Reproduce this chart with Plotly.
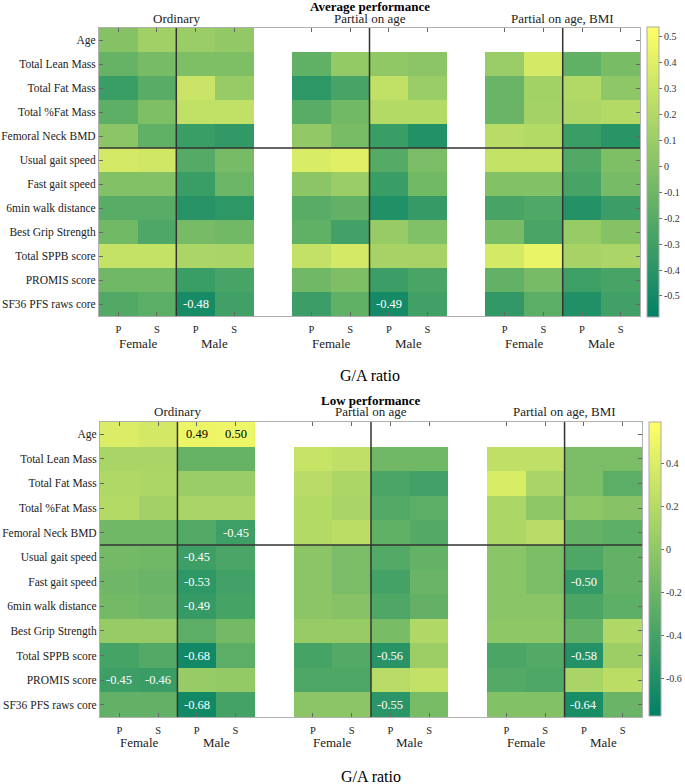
import plotly.graph_objects as go

W, H = 685, 784
ML, MR, MT, MB = 4, 36, 4, 4
FONT = "Liberation Serif"

rows = ["Age", "Total Lean Mass", "Total Fat Mass", "Total %Fat Mass",
        "Femoral Neck BMD", "Usual gait speed", "Fast gait speed",
        "6min walk distance", "Best Grip Strength", "Total SPPB score",
        "PROMIS score", "SF36 PFS raws core"]
col_ticks = ["P", "S", "P", "S"]
sexes = ["Female", "Male"]
groups = ["Ordinary", "Partial on age", "Partial on age, BMI"]
NA = None

# ---------- Average performance ----------
avg_ordinary = [
    [0.00, 0.12, 0.10, 0.06],
    [-0.13, -0.06, -0.03, -0.03],
    [-0.33, -0.19, 0.30, 0.08],
    [-0.17, -0.03, 0.26, 0.26],
    [0.03, -0.16, -0.33, -0.36],
    [0.35, 0.33, -0.21, -0.06],
    [-0.01, -0.01, -0.33, -0.11],
    [-0.19, -0.19, -0.41, -0.38],
    [-0.08, -0.24, -0.06, -0.08],
    [0.28, 0.28, 0.17, 0.16],
    [-0.09, -0.09, -0.33, -0.27],
    [-0.22, -0.18, -0.48, -0.30]]
avg_partial_age = [
    [NA, NA, NA, NA],
    [-0.16, 0.07, 0.05, 0.03],
    [-0.38, -0.27, 0.26, 0.10],
    [-0.19, -0.08, 0.21, 0.21],
    [0.06, -0.05, -0.33, -0.43],
    [0.37, 0.40, -0.21, -0.04],
    [0.03, 0.10, -0.33, -0.08],
    [-0.19, -0.15, -0.44, -0.35],
    [-0.16, -0.29, 0.08, -0.02],
    [0.27, 0.35, 0.15, 0.15],
    [-0.09, -0.03, -0.32, -0.26],
    [-0.32, -0.16, -0.49, -0.30]]
avg_partial_age_bmi = [
    [NA, NA, NA, NA],
    [0.09, 0.35, -0.16, -0.05],
    [-0.12, 0.13, 0.20, 0.04],
    [-0.12, 0.14, 0.18, 0.21],
    [0.23, 0.21, -0.33, -0.40],
    [0.28, 0.28, -0.22, -0.03],
    [-0.01, -0.01, -0.27, -0.06],
    [-0.27, -0.23, -0.42, -0.32],
    [-0.05, -0.26, 0.08, 0.00],
    [0.35, 0.44, 0.15, 0.17],
    [-0.15, -0.06, -0.31, -0.27],
    [-0.36, -0.18, -0.44, -0.30]]

# ---------- Low performance ----------
low_ordinary = [
    [0.40, 0.36, 0.49, 0.50],
    [0.13, 0.13, -0.23, -0.23],
    [0.17, 0.15, 0.05, 0.05],
    [0.19, 0.10, 0.13, 0.13],
    [-0.17, -0.17, -0.33, -0.45],
    [-0.15, -0.17, -0.45, -0.38],
    [-0.18, -0.21, -0.53, -0.42],
    [-0.16, -0.18, -0.49, -0.40],
    [0.03, 0.03, -0.28, -0.15],
    [-0.40, -0.33, -0.68, -0.28],
    [-0.45, -0.46, 0.03, 0.02],
    [-0.25, -0.25, -0.68, -0.41]]
low_partial_age = [
    [NA, NA, NA, NA],
    [0.29, 0.25, -0.17, -0.17],
    [0.21, 0.15, -0.38, -0.42],
    [0.19, 0.13, -0.33, -0.28],
    [0.19, 0.23, -0.26, -0.33],
    [-0.03, -0.12, -0.33, -0.24],
    [-0.03, -0.12, -0.41, -0.21],
    [-0.03, -0.05, -0.35, -0.25],
    [0.03, 0.03, -0.13, 0.17],
    [-0.40, -0.33, -0.56, 0.07],
    [-0.35, -0.35, 0.21, 0.27],
    [-0.03, -0.03, -0.55, -0.13]]
low_partial_age_bmi = [
    [NA, NA, NA, NA],
    [0.25, 0.25, -0.12, -0.12],
    [0.39, 0.13, -0.11, -0.28],
    [0.15, -0.01, -0.01, -0.05],
    [0.15, 0.21, -0.24, -0.27],
    [-0.04, -0.11, -0.35, -0.25],
    [-0.04, -0.11, -0.50, -0.25],
    [-0.04, -0.04, -0.37, -0.27],
    [-0.01, -0.01, -0.24, 0.17],
    [-0.37, -0.33, -0.58, 0.07],
    [-0.33, -0.35, 0.13, 0.23],
    [-0.07, -0.07, -0.64, -0.21]]

avg_cb_ticks = [-0.5, -0.4, -0.3, -0.2, -0.1, 0, 0.1, 0.2, 0.3, 0.4, 0.5]
low_cb_ticks = [-0.6, -0.4, -0.2, 0, 0.2, 0.4]
SIG = 0.45

summer = [[0.0, "rgb(0,128,102)"], [1.0, "rgb(255,255,102)"]]

PW, PH = W - ML - MR, H - MT - MB


def px(x):
    return (x - ML) / PW


def py(y):
    return 1 - (y - MT) / PH


def build(gdata):
    z = []
    for r in range(len(rows)):
        row = []
        for gi, g in enumerate(gdata):
            if gi > 0:
                row.append(None)
            row.extend(g[r])
        z.append(row)
    return z


panels = [
    dict(title="Average performance", data=[avg_ordinary, avg_partial_age, avg_partial_age_bmi],
         x0=99, x1=640, y0=28, y1=316, cbx=647, cby0=27, cby1=317, zmin=-0.581, zmax=0.537,
         ticks=avg_cb_ticks, ty=7, gy=18, sy=343, ry=375),
    dict(title="Low performance", data=[low_ordinary, low_partial_age, low_partial_age_bmi],
         x0=100, x1=642, y0=422, y1=717, cbx=649, cby0=422, cby1=716, zmin=-0.775, zmax=0.594,
         ticks=low_cb_ticks, ty=401, gy=411, sy=742, ry=776),
]

ncol = 14
xs = list(range(ncol))
tick_pos = [c for c in xs if c not in (4, 9)]
tick_txt = col_ticks * 3

fig = go.Figure()
annotations = []
shapes = []
layout_axes = {}

for i, p in enumerate(panels):
    n = "" if i == 0 else str(i + 1)
    xa, ya = "x" + n, "y" + n
    z = build(p["data"])
    fig.add_trace(go.Heatmap(
        z=z, x=xs, y=list(range(len(rows))), xaxis=xa, yaxis=ya,
        colorscale=summer, zmin=p["zmin"], zmax=p["zmax"], hoverongaps=False,
        colorbar=dict(
            x=px(p["cbx"]), xanchor="left", xpad=0, ypad=0,
            y=py((p["cby0"] + p["cby1"]) / 2), yanchor="middle",
            len=(p["cby1"] - p["cby0"]) / PH, lenmode="fraction", thickness=12,
            outlinewidth=1, outlinecolor="#aaaaaa", ticks="outside", ticklen=3,
            tickcolor="#666", tickvals=p["ticks"],
            ticktext=[("%g" % t) for t in p["ticks"]],
            tickfont=dict(family=FONT, size=10, color="#333")),
    ))
    layout_axes["xaxis" + n] = dict(
        domain=[px(p["x0"]), min(1.0, px(p["x1"]))], anchor=ya, range=[-0.5, ncol - 0.5],
        tickvals=tick_pos, ticktext=tick_txt, ticks="inside", ticklen=4,
        tickcolor="#666", showline=True, linecolor="#b0b0b0", linewidth=1,
        mirror="ticks", showgrid=False, zeroline=False, ticklabelstandoff=3,
        tickfont=dict(family=FONT, size=10.5, color="#222"))
    layout_axes["yaxis" + n] = dict(
        domain=[py(p["y1"]), py(p["y0"])], anchor=xa, range=[len(rows) - 0.5, -0.5],
        tickvals=list(range(len(rows))), ticktext=rows, ticks="inside", ticklen=4,
        tickcolor="#666", showline=True, linecolor="#b0b0b0", linewidth=1,
        mirror="ticks", showgrid=False, zeroline=False,
        tickfont=dict(family=FONT, size=11.5, color="#222"))

    # cell value labels
    for r in range(len(rows)):
        for c in range(ncol):
            v = z[r][c]
            if v is not None and abs(v) >= SIG:
                annotations.append(dict(
                    x=c, y=r, xref=xa, yref=ya, text=("%.2f" % v), showarrow=False,
                    font=dict(family=FONT, size=12.5, color="black" if v > 0 else "white")))
    # divider lines
    for xl in (1.5, 6.5, 11.5):
        shapes.append(dict(type="line", xref=xa, yref=ya, x0=xl, x1=xl, y0=-0.5,
                           y1=len(rows) - 0.5, line=dict(color="#333", width=1.5)))
    shapes.append(dict(type="line", xref=xa, yref=ya, x0=-0.5, x1=ncol - 0.5, y0=4.5, y1=4.5,
                       line=dict(color="#333", width=1.5)))
    # titles
    annotations.append(dict(x=px((p["x0"] + p["x1"]) / 2), y=py(p["ty"]), xref="paper", yref="paper",
                            text="<b>%s</b>" % p["title"], showarrow=False, yanchor="middle",
                            font=dict(family=FONT, size=13, color="black")))
    for gi, g in enumerate(groups):
        annotations.append(dict(x=gi * 5 + 1.5, y=py(p["gy"]), xref=xa, yref="paper", text=g,
                                showarrow=False, yanchor="middle",
                                font=dict(family=FONT, size=13, color="#222")))
        for si, s in enumerate(sexes):
            annotations.append(dict(x=gi * 5 + si * 2 + 0.5, y=py(p["sy"]), xref=xa, yref="paper",
                                    text=s, showarrow=False, yanchor="middle",
                                    font=dict(family=FONT, size=13, color="#222")))
    annotations.append(dict(x=px((p["x0"] + p["x1"]) / 2), y=py(p["ry"]), xref="paper", yref="paper",
                            text="G/A ratio", showarrow=False, yanchor="middle",
                            font=dict(family=FONT, size=16, color="black")))

fig.update_layout(
    width=W, height=H, margin=dict(l=ML, r=MR, t=MT, b=MB, autoexpand=False),
    paper_bgcolor="white", plot_bgcolor="white", showlegend=False,
    annotations=annotations, shapes=shapes, font=dict(family=FONT), **layout_axes)

# place the figure flush with the window's top-left corner (no default page margin)
fig.write_html("out.html", config={"displayModeBar": False},
               post_script="document.body.style.margin='0px';")
